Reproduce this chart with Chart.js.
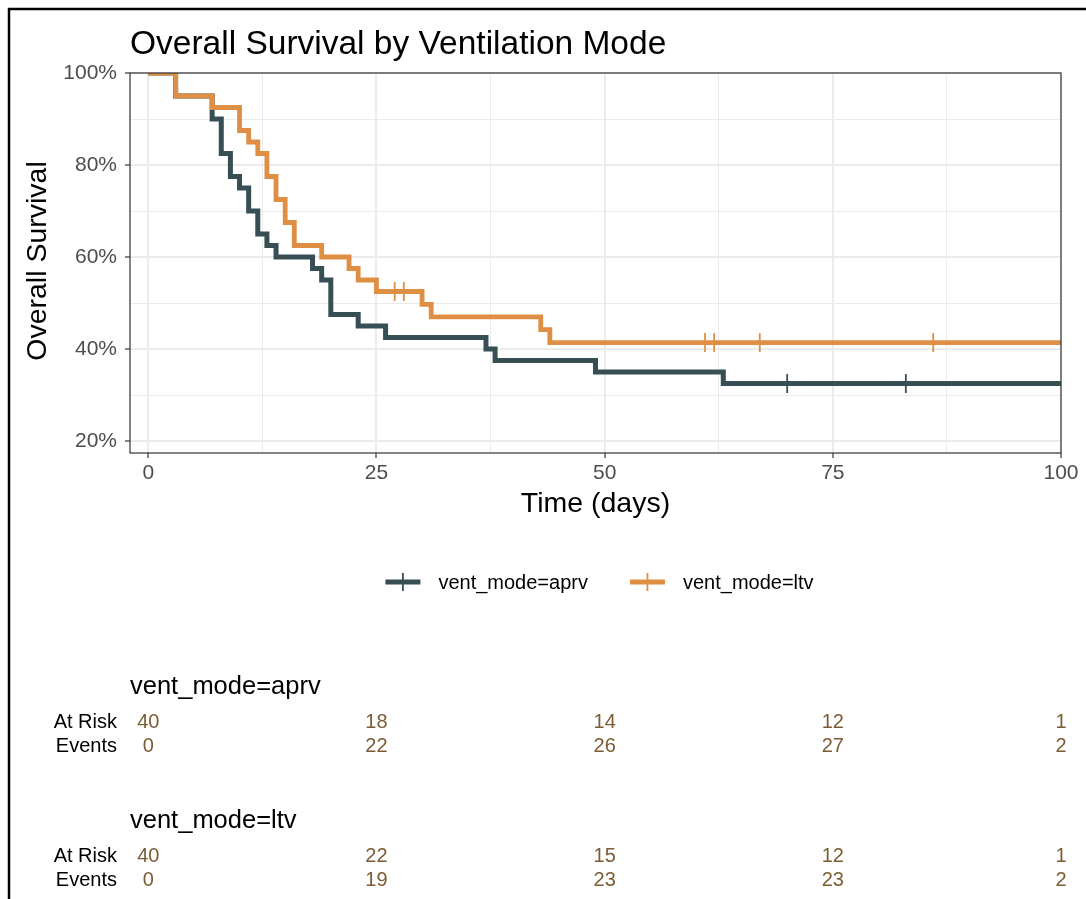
<!DOCTYPE html>
<html>
<head>
<meta charset="utf-8">
<title>Overall Survival by Ventilation Mode</title>
<script src="https://cdn.jsdelivr.net/npm/chart.js@4.4.1/dist/chart.umd.min.js"></script>
<style>
  html, body { margin: 0; padding: 0; background: #fff; }
  #survChart { display: block; }
</style>
</head>
<body>
<canvas id="survChart" width="1086" height="899"></canvas>
<script>
// Kaplan-Meier steps (time in days, survival in %)
const aprvTime = [0, 3, 7, 8, 9, 10, 11, 12, 13, 14, 18, 19, 20, 23, 26, 37, 38, 49, 63, 100];
const aprvSurv = [100, 95, 90, 82.5, 77.5, 75, 70, 65, 62.5, 60, 57.5, 55, 47.5, 45, 42.5, 40, 37.5, 35, 32.5, 32.5];
const ltvTime = [0, 3, 7, 10, 11, 12, 13, 14, 15, 16, 19, 22, 23, 25, 30, 31, 43, 44, 100];
const ltvSurv = [100, 95, 92.5, 87.5, 85, 82.5, 77.5, 72.5, 67.5, 62.5, 60, 57.5, 55, 52.5, 49.7, 47.0, 44.2, 41.4, 41.4];

// censored observations (+)
const aprvCensorTime = [70, 83];
const aprvCensorSurv = [32.5, 32.5];
const ltvCensorTime = [27, 28, 61, 62, 67, 86];
const ltvCensorSurv = [52.5, 52.5, 41.4, 41.4, 41.4, 41.4];

// number at risk table
const riskTimes = [0, 25, 50, 75, 100];
const aprvAtRisk = [40, 18, 14, 12, 1];
const aprvEvents = [0, 22, 26, 27, 2];
const ltvAtRisk = [40, 22, 15, 12, 1];
const ltvEvents = [0, 19, 23, 23, 2];

const groupNames = ['vent_mode=aprv', 'vent_mode=ltv'];
const xMajorTicks = [0, 25, 50, 75, 100];
const xMinorTicks = [12.5, 37.5, 62.5, 87.5];
const yMajorTicks = [20, 40, 60, 80, 100];
const yMinorTicks = [30, 50, 70, 90];

const COL_APRV = '#374E55';
const COL_LTV = '#DF8F44';
const COL_TABLE = '#7b5c33';
const FONT = "'Liberation Sans', Arial, Helvetica, sans-serif";

Chart.defaults.font.family = FONT;

function toPoints(xs, ys) {
    return xs.map((x, i) => ({ x: x, y: ys[i] }));
}

function tickList(major, minor) {
    return major.concat(minor).sort((a, b) => a - b).map(v => ({ value: v }));
}

// 畫面外框、標題、圖例與風險表
const decorations = {
    id: 'decorations',
    beforeDraw(chart) {
        const ctx = chart.ctx;
        ctx.save();
        ctx.fillStyle = '#fff';
        ctx.fillRect(0, 0, chart.width, chart.height);
        ctx.strokeStyle = '#000';
        ctx.lineWidth = 2.5;
        ctx.beginPath();
        ctx.moveTo(8, 9); ctx.lineTo(chart.width, 9);
        ctx.moveTo(9, 8); ctx.lineTo(9, chart.height);
        ctx.stroke();
        ctx.restore();
    },
    afterDatasetsDraw(chart) {
        const { ctx, chartArea: a } = chart;
        ctx.save();
        ctx.strokeStyle = '#333';
        ctx.lineWidth = 1.2;
        ctx.strokeRect(a.left, a.top, a.right - a.left, a.bottom - a.top);
        ctx.restore();
    },
    afterDraw(chart) {
        const { ctx, chartArea: a } = chart;
        const xs = chart.scales.x;
        ctx.save();
        ctx.fillStyle = '#000';

        // title
        ctx.font = '33.5px ' + FONT;
        ctx.textAlign = 'left';
        ctx.textBaseline = 'alphabetic';
        ctx.fillText('Overall Survival by Ventilation Mode', a.left, 54);

        // axis titles
        ctx.font = '28.5px ' + FONT;
        ctx.textAlign = 'center';
        ctx.textBaseline = 'middle';
        ctx.fillText('Time (days)', (a.left + a.right) / 2, 504);
        ctx.save();
        ctx.translate(38, 261);
        ctx.rotate(-Math.PI / 2);
        ctx.fillText('Overall Survival', 0, 0);
        ctx.restore();

        // legend
        ctx.font = '20px ' + FONT;
        const keyW = 35, keyGap = 18, itemGap = 42;
        const colors = [COL_APRV, COL_LTV];
        const widths = groupNames.map(t => ctx.measureText(t).width);
        const total = widths.reduce((s, w) => s + keyW + keyGap + w, 0) + itemGap;
        let lx = (a.left + a.right) / 2 + 4 - total / 2;
        const ly = 582;
        groupNames.forEach((name, i) => {
            ctx.strokeStyle = colors[i];
            ctx.lineWidth = 5;
            ctx.beginPath();
            ctx.moveTo(lx, ly); ctx.lineTo(lx + keyW, ly);
            ctx.stroke();
            ctx.lineWidth = 1.8;
            ctx.beginPath();
            ctx.moveTo(lx + keyW / 2, ly - 9); ctx.lineTo(lx + keyW / 2, ly + 9);
            ctx.stroke();
            ctx.fillStyle = '#000';
            ctx.textAlign = 'left';
            ctx.fillText(name, lx + keyW + keyGap, ly + 1);
            lx += keyW + keyGap + widths[i] + itemGap;
        });

        // risk tables
        const tables = [
            { name: groupNames[0], top: 687, rows: [['At Risk', aprvAtRisk], ['Events', aprvEvents]] },
            { name: groupNames[1], top: 821, rows: [['At Risk', ltvAtRisk], ['Events', ltvEvents]] }
        ];
        tables.forEach(t => {
            ctx.font = '25.5px ' + FONT;
            ctx.fillStyle = '#000';
            ctx.textAlign = 'left';
            ctx.fillText(t.name, a.left, t.top);
            t.rows.forEach((row, r) => {
                const y = t.top + 35 + r * 24;
                ctx.font = '20px ' + FONT;
                ctx.fillStyle = '#000';
                ctx.textAlign = 'right';
                ctx.fillText(row[0], a.left - 13, y);
                ctx.fillStyle = COL_TABLE;
                ctx.textAlign = 'center';
                row[1].forEach((v, k) => {
                    ctx.fillText(String(v), xs.getPixelForValue(riskTimes[k]), y);
                });
            });
        });
        ctx.restore();
    }
};

const ctx = document.getElementById('survChart').getContext('2d');

new Chart(ctx, {
    type: 'line',
    data: {
        datasets: [
            {
                label: groupNames[1] + ' censored',
                type: 'scatter',
                data: toPoints(ltvCensorTime, ltvCensorSurv),
                borderColor: COL_LTV,
                backgroundColor: COL_LTV,
                pointStyle: 'line',
                rotation: 90,
                pointRadius: 9.5,
                borderWidth: 1.8,
                order: 0
            },
            {
                label: groupNames[1],
                data: toPoints(ltvTime, ltvSurv),
                borderColor: COL_LTV,
                borderWidth: 4.8,
                stepped: 'before',
                pointRadius: 0,
                fill: false,
                clip: 0,
                order: 1
            },
            {
                label: groupNames[0] + ' censored',
                type: 'scatter',
                data: toPoints(aprvCensorTime, aprvCensorSurv),
                borderColor: COL_APRV,
                backgroundColor: COL_APRV,
                pointStyle: 'line',
                rotation: 90,
                pointRadius: 9.5,
                borderWidth: 1.8,
                order: 2
            },
            {
                label: groupNames[0],
                data: toPoints(aprvTime, aprvSurv),
                borderColor: COL_APRV,
                borderWidth: 5,
                stepped: 'before',
                pointRadius: 0,
                fill: false,
                clip: 0,
                order: 3
            }
        ]
    },
    options: {
        responsive: false,
        animation: false,
        events: [],
        layout: { padding: { left: 30, right: 25, top: 73, bottom: 416 } },
        plugins: {
            legend: { display: false },
            title: { display: false },
            tooltip: { enabled: false }
        },
        scales: {
            x: {
                type: 'linear',
                min: -2,
                max: 100,
                afterFit: s => { s.height = 30; },
                afterBuildTicks: s => { s.ticks = tickList(xMajorTicks, xMinorTicks); },
                border: { display: false },
                grid: {
                    color: '#ebebeb',
                    lineWidth: c => xMajorTicks.includes(c.tick.value) ? 2 : 1,
                    tickColor: c => xMajorTicks.includes(c.tick.value) ? '#333' : 'rgba(0,0,0,0)',
                    tickLength: 5,
                    tickWidth: 1.2
                },
                ticks: {
                    autoSkip: false,
                    maxRotation: 0,
                    padding: 3,
                    color: '#4d4d4d',
                    font: { size: 21 },
                    callback: v => xMajorTicks.includes(v) ? String(v) : ''
                }
            },
            y: {
                type: 'linear',
                min: 17.4,
                max: 100,
                afterFit: s => { s.width = 100; },
                afterBuildTicks: s => { s.ticks = tickList(yMajorTicks, yMinorTicks); },
                border: { display: false },
                grid: {
                    color: '#ebebeb',
                    lineWidth: c => yMajorTicks.includes(c.tick.value) ? 2 : 1,
                    tickColor: c => yMajorTicks.includes(c.tick.value) ? '#333' : 'rgba(0,0,0,0)',
                    tickLength: 5,
                    tickWidth: 1.2
                },
                ticks: {
                    autoSkip: false,
                    padding: 8,
                    color: '#4d4d4d',
                    font: { size: 21 },
                    callback: v => yMajorTicks.includes(v) ? v + '%' : ''
                }
            }
        }
    },
    plugins: [decorations]
});
</script>
</body>
</html>
